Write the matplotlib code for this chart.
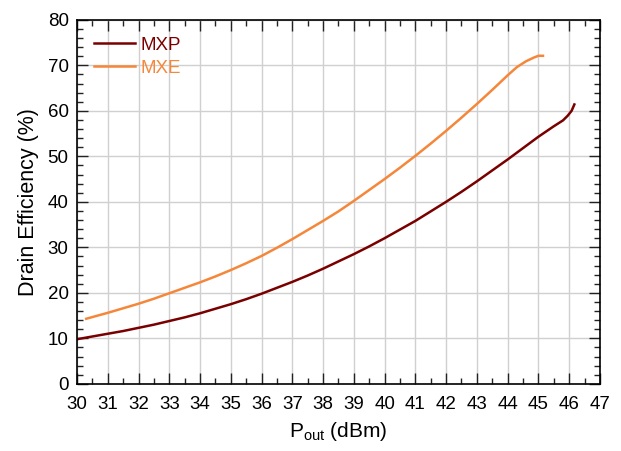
import matplotlib
matplotlib.use("Agg")
import matplotlib.pyplot as plt
from matplotlib.ticker import MultipleLocator

plt.rcParams['font.family'] = ['Liberation Sans', 'DejaVu Sans']
plt.rcParams['mathtext.fontset'] = 'custom'
plt.rcParams['mathtext.rm'] = 'Liberation Sans'

mxp_pout = [30.0, 30.5, 31.0, 31.5, 32.0, 32.5, 33.0, 33.5, 34.0, 34.5, 35.0, 35.5,
            36.0, 36.5, 37.0, 37.5, 38.0, 38.5, 39.0, 39.5, 40.0, 40.5, 41.0, 41.5,
            42.0, 42.5, 43.0, 43.5, 44.0, 44.5, 45.0, 45.5, 45.8, 45.95, 46.08, 46.17]
mxp_eff = [9.8, 10.4, 11.0, 11.6, 12.3, 13.0, 13.8, 14.6, 15.5, 16.5, 17.5, 18.6,
           19.8, 21.1, 22.4, 23.8, 25.3, 26.9, 28.5, 30.2, 32.0, 33.9, 35.8, 37.9,
           40.0, 42.2, 44.5, 46.9, 49.3, 51.8, 54.3, 56.6, 57.9, 58.9, 60.0, 61.4]

mxe_pout = [30.3, 31.0, 31.5, 32.0, 32.5, 33.0, 33.5, 34.0, 34.5, 35.0, 35.5, 36.0,
            36.5, 37.0, 37.5, 38.0, 38.5, 39.0, 39.5, 40.0, 40.5, 41.0, 41.5, 42.0,
            42.5, 43.0, 43.5, 44.0, 44.3, 44.6, 44.85, 45.0, 45.15]
mxe_eff = [14.3, 15.6, 16.6, 17.6, 18.7, 19.9, 21.1, 22.3, 23.6, 25.0, 26.5, 28.1,
           29.9, 31.8, 33.8, 35.8, 37.9, 40.2, 42.6, 45.0, 47.5, 50.1, 52.8, 55.6,
           58.5, 61.5, 64.6, 67.8, 69.6, 70.9, 71.7, 72.1, 72.1]

fig = plt.figure(figsize=(6.21, 4.51), dpi=100)
ax = fig.add_axes([0.124, 0.149, 0.842, 0.807])

ax.plot(mxp_pout, mxp_eff, color='#7a0000', lw=1.8, label='MXP')
ax.plot(mxe_pout, mxe_eff, color='#f5873a', lw=1.8, label='MXE')

ax.set_xlim(30, 47)
ax.set_ylim(0, 80)
ax.xaxis.set_major_locator(MultipleLocator(1))
ax.xaxis.set_minor_locator(MultipleLocator(0.5))
ax.yaxis.set_major_locator(MultipleLocator(10))
ax.yaxis.set_minor_locator(MultipleLocator(2))
ax.tick_params(which='both', direction='in', top=True, right=True, labelsize=13.5,
               color='#222222')
ax.tick_params(which='major', length=8, width=1)
ax.tick_params(which='minor', length=4.5, width=1)
ax.tick_params(axis='x', pad=9)
ax.tick_params(axis='y', pad=6)
ax.grid(True, which='major', color='#d0d0d0', lw=1)
ax.set_axisbelow(True)
for s in ax.spines.values():
    s.set_linewidth(1.2)

ax.set_xlabel(r'P$_{\mathrm{out}}$ (dBm)', fontsize=15, labelpad=5)
ax.set_ylabel('Drain Efficiency (%)', fontsize=15.5, labelpad=6)

leg = ax.legend(loc='upper left', frameon=False, fontsize=13.5, handlelength=2.2,
                handletextpad=0.3, labelspacing=0.3, borderaxespad=0.5)
for txt, line in zip(leg.get_texts(), leg.get_lines()):
    txt.set_color(line.get_color())

fig.savefig('out.png', dpi=100)
